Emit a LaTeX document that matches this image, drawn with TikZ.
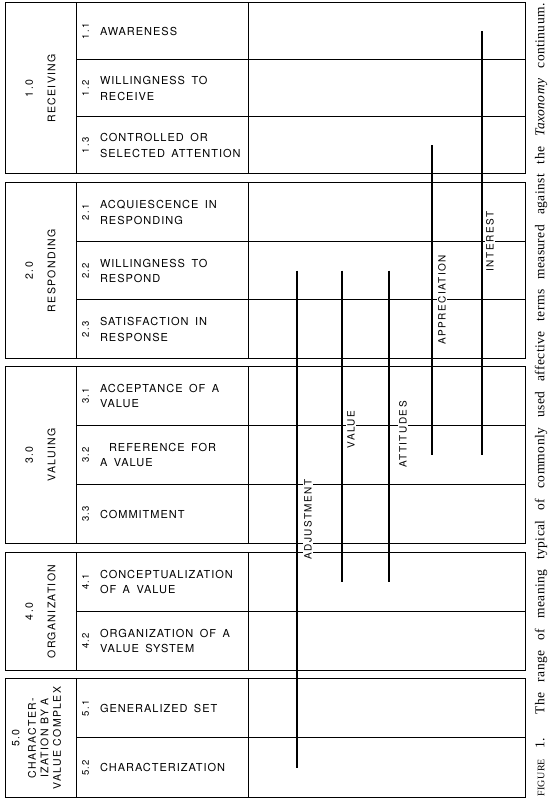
\documentclass[tikz,border=0pt]{standalone}
\usepackage{fontspec}
\usepackage{tikz}
\usetikzlibrary{positioning}
\newfontfamily\rowfont[LetterSpace=9,WordSpace=1.6]{TeX Gyre Heros}
\newfontfamily\grpfont[LetterSpace=13]{TeX Gyre Heros}
\newfontfamily\termfont[LetterSpace=15]{TeX Gyre Heros}
\newfontfamily\capfont[LetterSpace=3]{Liberation Serif}

\begin{document}
\begin{tikzpicture}[
      x=1pt, y=1pt,
      every node/.style={outer sep=0pt},
      txtcell/.style={draw, line width=1pt, minimum width=172pt, minimum height=#1, inner sep=0pt},
      txtcell/.default=59pt,
      chart/.style={draw, line width=1pt, minimum width=277pt, minimum height=#1, inner sep=0pt},
      chart/.default=59pt,
      grpcell/.style={draw, line width=1pt, minimum width=71pt, minimum height=#1, inner sep=0pt, anchor=north east},
      grplbl/.style={rotate=90, align=center, font=\grpfont\fontsize{10.5}{12.5}\selectfont},
      num/.style={rotate=90, inner sep=1pt, font=\grpfont\fontsize{9.5}{11}\selectfont},
      item/.style={anchor=west, align=left, inner sep=0pt, font=\rowfont\fontsize{11}{15.5}\selectfont},
      tlbl/.style={rotate=90, fill=white, inner sep=1.5pt, font=\termfont\fontsize{10}{12}\selectfont},
      term/.style={line width=1.5pt},
      capnode/.style={rotate=90, inner sep=0pt, font=\capfont\fontsize{13.5}{15}\selectfont}
    ]
    \useasboundingbox (0,0) rectangle (548,800);

    % 1.0 receiving
    \node[txtcell=57pt, anchor=north west] (t11) at (76,797) {};
    \node[txtcell=57pt, below=0pt of t11] (t12) {};
    \node[txtcell=57pt, below=0pt of t12] (t13) {};
    \node[chart=57pt, right=0pt of t11] (c11) {};
    \node[chart=57pt, right=0pt of t12] (c12) {};
    \node[chart=57pt, right=0pt of t13] (c13) {};
    \node[grpcell=171pt] (g1) at (t11.north west) {};

    % 2.0 responding
    \node[txtcell=58.5pt, below=9pt of t13] (t21) {};
    \node[txtcell=58.5pt, below=0pt of t21] (t22) {};
    \node[txtcell=58.5pt, below=0pt of t22] (t23) {};
    \node[chart=58.5pt, right=0pt of t21] (c21) {};
    \node[chart=58.5pt, right=0pt of t22] (c22) {};
    \node[chart=58.5pt, right=0pt of t23] (c23) {};
    \node[grpcell=175.5pt] (g2) at (t21.north west) {};

    % 3.0 valuing
    \node[txtcell, below=8pt of t23] (t31) {};
    \node[txtcell, below=0pt of t31] (t32) {};
    \node[txtcell, below=0pt of t32] (t33) {};
    \node[chart, right=0pt of t31] (c31) {};
    \node[chart, right=0pt of t32] (c32) {};
    \node[chart, right=0pt of t33] (c33) {};
    \node[grpcell=177pt] (g3) at (t31.north west) {};

    % 4.0 organization
    \node[txtcell, below=9pt of t33] (t41) {};
    \node[txtcell, below=0pt of t41] (t42) {};
    \node[chart, right=0pt of t41] (c41) {};
    \node[chart, right=0pt of t42] (c42) {};
    \node[grpcell=118pt] (g4) at (t41.north west) {};

    % 5.0 characterization
    \node[txtcell=59.5pt, below=8pt of t42] (t51) {};
    \node[txtcell=59.5pt, below=0pt of t51] (t52) {};
    \node[chart=59.5pt, right=0pt of t51] (c51) {};
    \node[chart=59.5pt, right=0pt of t52] (c52) {};
    \node[grpcell=119pt] (g5) at (t51.north west) {};

    \node[grplbl] (g1txt) at (g1.center) {1.0\\[10pt]RECEIVING};
    \node[grplbl] (g2txt) at (g2.center) {2.0\\[10pt]RESPONDING};
    \node[grplbl] (g3txt) at (g3.center) {3.0\\[10pt]VALUING};
    \node[grplbl] (g4txt) at (g4.center) {4.0\\[10pt]ORGANIZATION};
    \node[grplbl] (g5txt) at ([xshift=-4pt]g5.center) {5.0\\[4pt]CHARACTER-\\IZATION BY A\\VALUE COMPLEX};

    \node[num] (n11) at ([xshift=9.5pt]t11.west) {1.1};
    \node[num] (n12) at ([xshift=9.5pt]t12.west) {1.2};
    \node[num] (n13) at ([xshift=9.5pt]t13.west) {1.3};
    \node[num] (n21) at ([xshift=9.5pt]t21.west) {2.1};
    \node[num] (n22) at ([xshift=9.5pt]t22.west) {2.2};
    \node[num] (n23) at ([xshift=9.5pt]t23.west) {2.3};
    \node[num] (n31) at ([xshift=9.5pt]t31.west) {3.1};
    \node[num] (n32) at ([xshift=9.5pt]t32.west) {3.2};
    \node[num] (n33) at ([xshift=9.5pt]t33.west) {3.3};
    \node[num] (n41) at ([xshift=9.5pt]t41.west) {4.1};
    \node[num] (n42) at ([xshift=9.5pt]t42.west) {4.2};
    \node[num] (n51) at ([xshift=9.5pt]t51.west) {5.1};
    \node[num] (n52) at ([xshift=9.5pt]t52.west) {5.2};

    \node[item] (l11) at ([xshift=24pt]t11.west) {AWARENESS};
    \node[item] (l12) at ([xshift=24pt]t12.west) {WILLINGNESS TO\\RECEIVE};
    \node[item] (l13) at ([xshift=24pt]t13.west) {CONTROLLED OR\\SELECTED ATTENTION};
    \node[item] (l21) at ([xshift=24pt]t21.west) {ACQUIESCENCE IN\\RESPONDING};
    \node[item] (l22) at ([xshift=24pt]t22.west) {WILLINGNESS TO\\RESPOND};
    \node[item] (l23) at ([xshift=24pt]t23.west) {SATISFACTION IN\\RESPONSE};
    \node[item] (l31) at ([xshift=24pt]t31.west) {ACCEPTANCE OF A\\VALUE};
    \node[item] (l32) at ([xshift=24pt]t32.west) {\hspace*{9pt}REFERENCE FOR\\A VALUE};
    \node[item] (l33) at ([xshift=24pt]t33.west) {COMMITMENT};
    \node[item] (l41) at ([xshift=24pt]t41.west) {CONCEPTUALIZATION\\OF A VALUE};
    \node[item] (l42) at ([xshift=24pt]t42.west) {ORGANIZATION OF A\\VALUE SYSTEM};
    \node[item] (l51) at ([xshift=24pt]t51.west) {GENERALIZED SET};
    \node[item] (l52) at ([xshift=24pt]t52.west) {CHARACTERIZATION};

    \node[tlbl] (intlbl) at ([xshift=242pt]c21.south west) {INTEREST};
    \node[tlbl] (applbl) at ([xshift=194pt]c22.south west) {APPRECIATION};
    \node[tlbl] (vallbl) at ([xshift=103pt, yshift=-4pt]c31.south west) {VALUE};
    \node[tlbl] (attlbl) at ([xshift=155pt, yshift=-9pt]c31.south west) {ATTITUDES};
    \node[tlbl] (adjlbl) at ([xshift=60pt, yshift=24pt]c33.south west) {ADJUSTMENT};

    \draw[term] ([xshift=234pt]c11.west) -- ([xshift=234pt]c32.west);
    \draw[term] ([xshift=184pt]c13.west) -- ([xshift=184pt]c32.west);
    \draw[term] ([xshift=141pt]c22.west) -- ([xshift=141pt]c41.west);
    \draw[term] ([xshift=94pt]c22.west) -- ([xshift=94pt]c41.west);
    \draw[term] ([xshift=49pt]c22.west) -- ([xshift=49pt]c52.west);

    \node[capnode] (cap) at (541,400) {\makebox[793pt][s]{{\fontsize{10}{12}\selectfont FIGURE} 1. The range of meaning typical of commonly used affective terms measured against the \textit{Taxonomy} continuum.}};
  \end{tikzpicture}
\end{document}
